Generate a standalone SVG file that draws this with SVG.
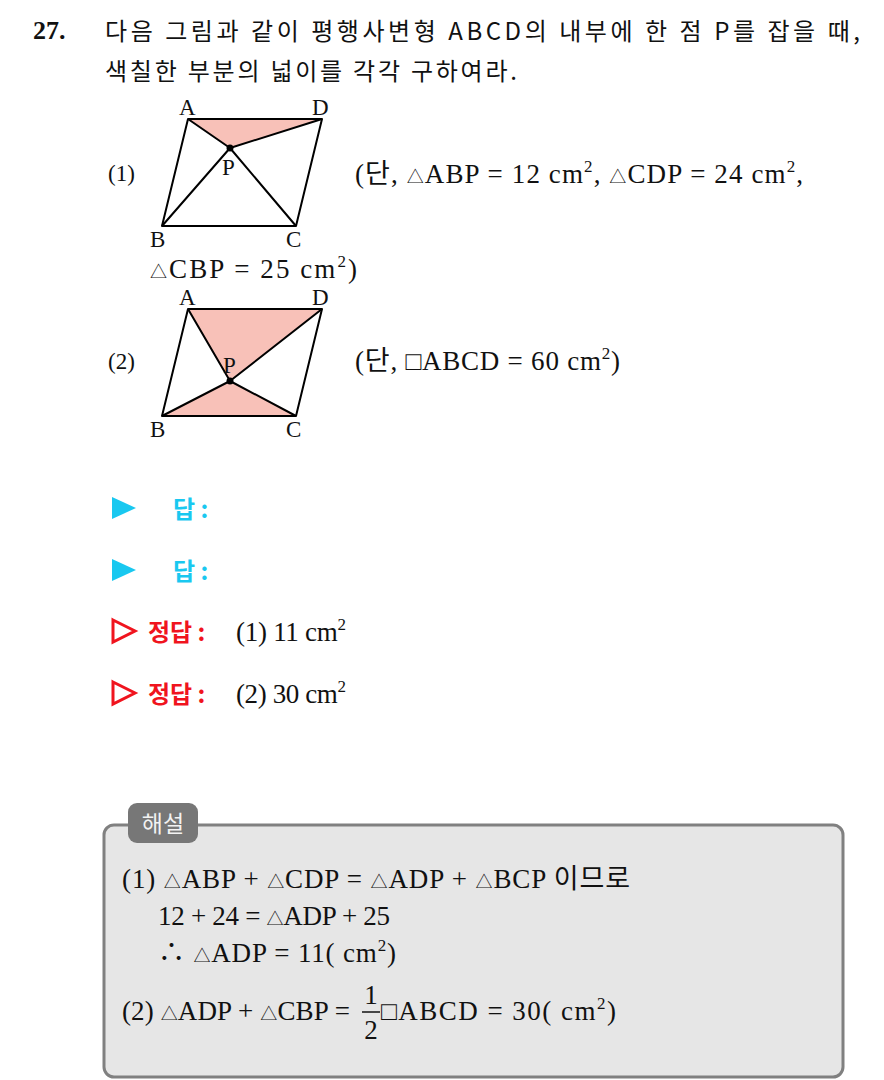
<svg xmlns="http://www.w3.org/2000/svg" width="884" height="1080" viewBox="0 0 884 1080">
<style>
.t{font-family:"Noto Sans CJK KR","Liberation Serif",serif;font-size:24px;fill:#111}
.m{font-family:"Liberation Serif","Noto Sans CJK KR",serif;font-size:27px;fill:#111}
.lb{font-family:"Liberation Serif",serif;font-size:23px;fill:#111}
.s{font-size:17px}
.q{font-size:26px}
.sup{font-size:17px}
.edge{stroke:#000;stroke-width:2;fill:none;stroke-linejoin:round}
.shade{fill:#f8c1b8;stroke:none}
.blue{font-family:"Noto Sans CJK KR",sans-serif;font-weight:bold;font-size:24px;fill:#19c8f0}
.red{font-family:"Noto Sans CJK KR",sans-serif;font-weight:bold;font-size:24px;fill:#f0141e}
</style>
<rect width="884" height="1080" fill="#fff"/>
<g id="title">
<text x="33" y="39" font-family="Liberation Serif,serif" font-weight="bold" font-size="26" fill="#111">27.</text>
<text x="105" y="40" class="t" textLength="755" lengthAdjust="spacing">다음 그림과 같이 평행사변형 ABCD의 내부에 한 점 P를 잡을 때,</text>
<text x="105" y="80" class="t" textLength="412" lengthAdjust="spacing">색칠한 부분의 넓이를 각각 구하여라.</text>
</g>
<g id="fig1">
<polygon class="shade" points="188,119 322,119 230,148"/>
<polygon class="edge" points="188,119 322,119 296,226 162,226"/>
<polyline class="edge" points="188,119 230,148 322,119"/>
<polyline class="edge" points="162,226 230,148 296,226"/>
<circle cx="230" cy="148" r="3.5" fill="#000"/>
<text class="lb" x="179" y="115">A</text>
<text class="lb" x="312" y="115">D</text>
<text class="lb" x="150" y="247">B</text>
<text class="lb" x="286" y="247">C</text>
<text class="lb" x="222" y="175">P</text>
<text class="lb" x="108" y="181">(1)</text>
</g>
<g id="fig2">
<polygon class="shade" points="188,309 322,309 230,381"/>
<polygon class="shade" points="162,416 296,416 230,381"/>
<polygon class="edge" points="188,309 322,309 296,416 162,416"/>
<polyline class="edge" points="188,309 230,381 296,416"/>
<polyline class="edge" points="322,309 230,381 162,416"/>
<circle cx="230" cy="381" r="3.5" fill="#000"/>
<text class="lb" x="179" y="305">A</text>
<text class="lb" x="312" y="305">D</text>
<text class="lb" x="150" y="437">B</text>
<text class="lb" x="286" y="437">C</text>
<text class="lb" x="223" y="373">P</text>
<text class="lb" x="108" y="369">(2)</text>
</g>
<g id="cond1">
<text class="m" x="355" y="183" textLength="448" lengthAdjust="spacing">(단, <tspan class="s">△</tspan>ABP = 12 cm<tspan class="sup" dy="-11">2</tspan><tspan dy="11">, </tspan><tspan class="s">△</tspan>CDP = 24 cm<tspan class="sup" dy="-11">2</tspan><tspan dy="11">,</tspan></text>
<text class="m" x="150" y="278" textLength="207" lengthAdjust="spacing"><tspan class="s">△</tspan>CBP = 25 cm<tspan class="sup" dy="-11">2</tspan><tspan dy="11">)</tspan></text>
</g>
<g id="cond2">
<text class="m" x="355" y="370" textLength="265" lengthAdjust="spacing">(단, <tspan class="q">□</tspan>ABCD = 60 cm<tspan class="sup" dy="-11">2</tspan><tspan dy="11">)</tspan></text>
</g>
<g id="answers">
<polygon points="112,497 136,508 112,519" fill="#19c8f0"/>
<text class="blue" x="173" y="518">답 :</text>
<polygon points="112,559 136,570 112,581" fill="#19c8f0"/>
<text class="blue" x="173" y="580">답 :</text>
<polygon points="113,620 135,631 113,642" fill="none" stroke="#f0141e" stroke-width="3"/>
<text class="red" x="148" y="641">정답 :</text>
<text class="m" x="236" y="641" textLength="110" lengthAdjust="spacing">(1) 11 cm<tspan class="sup" dy="-11">2</tspan></text>
<polygon points="113,682 135,693 113,704" fill="none" stroke="#f0141e" stroke-width="3"/>
<text class="red" x="148" y="703">정답 :</text>
<text class="m" x="236" y="703" textLength="110" lengthAdjust="spacing">(2) 30 cm<tspan class="sup" dy="-11">2</tspan></text>
</g>
<g id="solution">
<rect x="104" y="825" width="739" height="252" rx="10" fill="#e6e6e6" stroke="#808080" stroke-width="3"/>
<rect x="128" y="803" width="70" height="40" rx="9" fill="#777"/>
<text x="163" y="832" text-anchor="middle" font-family="Noto Sans CJK KR,sans-serif" font-size="23" fill="#f2f2f2">해설</text>
<text class="m" x="122" y="888" textLength="508" lengthAdjust="spacing">(1) <tspan class="s">△</tspan>ABP + <tspan class="s">△</tspan>CDP = <tspan class="s">△</tspan>ADP + <tspan class="s">△</tspan>BCP 이므로</text>
<text class="m" x="158" y="925" textLength="232" lengthAdjust="spacing">12 + 24 = <tspan class="s">△</tspan>ADP + 25</text>
<text class="m" x="158" y="962" textLength="238" lengthAdjust="spacing">∴  <tspan class="s">△</tspan>ADP = 11( cm<tspan class="sup" dy="-11">2</tspan><tspan dy="11">)</tspan></text>
<text class="m" x="122" y="1020" textLength="228" lengthAdjust="spacing">(2) <tspan class="s">△</tspan>ADP + <tspan class="s">△</tspan>CBP =</text>
<text class="m" x="371" y="1004" text-anchor="middle">1</text>
<line x1="362" y1="1012" x2="380" y2="1012" stroke="#111" stroke-width="1.5"/>
<text class="m" x="371" y="1039" text-anchor="middle">2</text>
<text class="m" x="381" y="1020" textLength="235" lengthAdjust="spacing"><tspan class="q">□</tspan>ABCD = 30( cm<tspan class="sup" dy="-11">2</tspan><tspan dy="11">)</tspan></text>
</g>
</svg>
